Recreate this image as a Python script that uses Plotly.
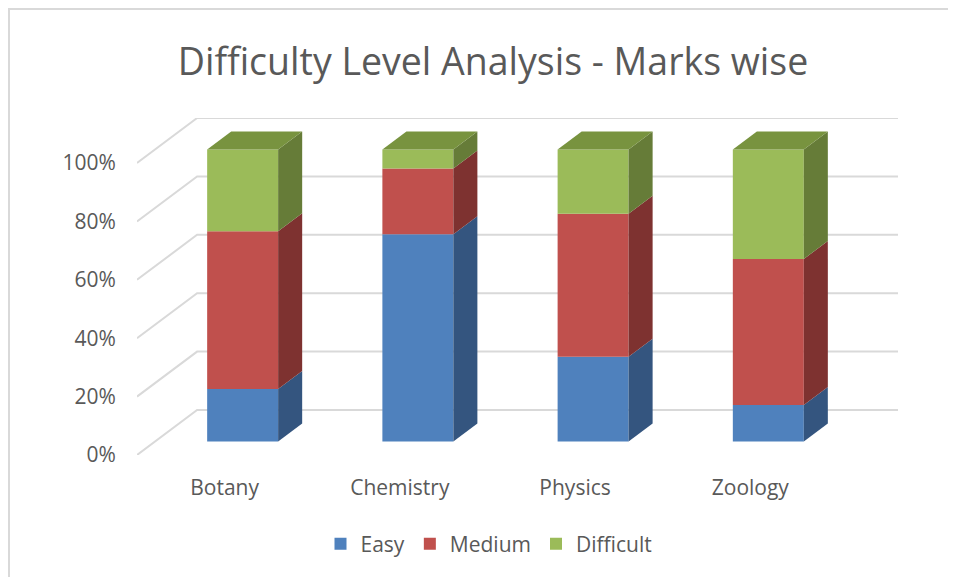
import plotly.graph_objects as go

# ---- data (percent of marks) ----
subjects = ["Botany", "Chemistry", "Physics", "Zoology"]
easy = [18, 71, 29, 12.5]
medium = [54, 22.5, 49, 50]
difficult = [28, 6.5, 22, 37.5]
series_names = ["Easy", "Medium", "Difficult"]
y_ticks = [0, 20, 40, 60, 80, 100]
y_tick_labels = ["0%", "20%", "40%", "60%", "80%", "100%"]

# ---- styling ----
front_cols = ["#4F81BD", "#C0504D", "#9BBB59"]
side_cols = ["#34557F", "#7E3230", "#667C38"]
top_cols = ["#3F6696", "#983D3A", "#78933F"]
TXT = "#595959"
GRID = "#D9D9D9"
FONT = "Open Sans"

# 3-D projection (depth in axis units)
DX, DY = 0.343, 15.4          # full depth offset of back wall
F0, F1 = 0.30, 0.70           # bar front / back depth fraction
BW = 0.405                    # bar width

W, H = 948, 569               # page body has an 8px margin
ML, MT, PW, PH = 129, 110, 761, 337

fig = go.Figure()

# gridlines (behind everything): diagonal on the floor side, then along the back wall
shapes = []
for v in y_ticks:
    shapes.append(dict(type="path", xref="x", yref="y", layer="below",
                       path=f"M {-0.5} {v} L {-0.5 + DX} {v + DY} L {3.5 + DX} {v + DY}",
                       line=dict(color=GRID, width=2)))

series = [easy, medium, difficult]
fx, fy = F0 * DX, F0 * DY
bdx, bdy = (F1 - F0) * DX, (F1 - F0) * DY

for i, name in enumerate(subjects):
    cum = 0.0
    for s, vals in enumerate(series):
        v = vals[i]
        b = cum + fy
        t = b + v
        xl = i + fx - BW / 2
        xr = i + fx + BW / 2
        fig.add_trace(go.Scatter(
            x=[xr, xr, xr + bdx, xr + bdx, xr], y=[b, t, t + bdy, b + bdy, b],
            mode="lines", fill="toself", fillcolor=side_cols[s],
            line=dict(width=0, color=side_cols[s]),
            hoverinfo="skip", showlegend=False))
        if s == len(series) - 1:
            fig.add_trace(go.Scatter(
                x=[xl, xr, xr + bdx, xl + bdx, xl], y=[t, t, t + bdy, t + bdy, t],
                mode="lines", fill="toself", fillcolor=top_cols[s],
                line=dict(width=0, color=top_cols[s]),
                hoverinfo="skip", showlegend=False))
        cum += v

# front faces as real bars
for s, vals in enumerate(series):
    cum = [0.0] * len(subjects)
    for k in range(s):
        cum = [c + series[k][j] for j, c in enumerate(cum)]
    fig.add_trace(go.Bar(
        name=series_names[s],
        x=[j + fx for j in range(len(subjects))],
        y=vals,
        base=[c + fy for c in cum],
        width=BW,
        marker=dict(color=front_cols[s], line=dict(width=0)),
        showlegend=True))

plot_bottom = MT + PH
shapes.append(dict(type="rect", xref="paper", yref="paper", layer="below",
                   x0=(1 - ML) / PW, x1=1.3, y0=-0.6, y1=(plot_bottom - 1) / PH,
                   line=dict(color=GRID, width=2), fillcolor="rgba(0,0,0,0)"))

fig.update_layout(
    width=W, height=H,
    margin=dict(l=ML, r=W - ML - PW, t=MT, b=H - MT - PH, autoexpand=False),
    paper_bgcolor="white", plot_bgcolor="white",
    barmode="overlay",
    font=dict(family=FONT, color=TXT, size=21),
    title=dict(text="Difficulty Level Analysis - Marks wise",
               x=485 / W, xanchor="center", y=1 - 54 / H, yanchor="middle",
               font=dict(family=FONT, size=37.5, color=TXT)),
    xaxis=dict(range=[-0.5, 3.5 + DX], tickvals=list(range(len(subjects))),
               ticktext=subjects, showgrid=False, zeroline=False, showline=False,
               ticks="outside", ticklen=14, tickcolor="rgba(0,0,0,0)",
               tickfont=dict(size=21, color=TXT)),
    yaxis=dict(range=[0, 100 + DY], tickvals=y_ticks, ticktext=y_tick_labels,
               showgrid=False, zeroline=False, showline=False,
               ticks="outside", ticklen=16, tickcolor="rgba(0,0,0,0)",
               tickfont=dict(size=21, color=TXT)),
    legend=dict(orientation="h", x=(481 - ML) / PW, xanchor="center",
                y=(447 - 536) / PH, yanchor="middle",
                font=dict(size=21, color=TXT), traceorder="normal",
                itemwidth=30),
    shapes=shapes,
)

fig.write_html("out.html")
